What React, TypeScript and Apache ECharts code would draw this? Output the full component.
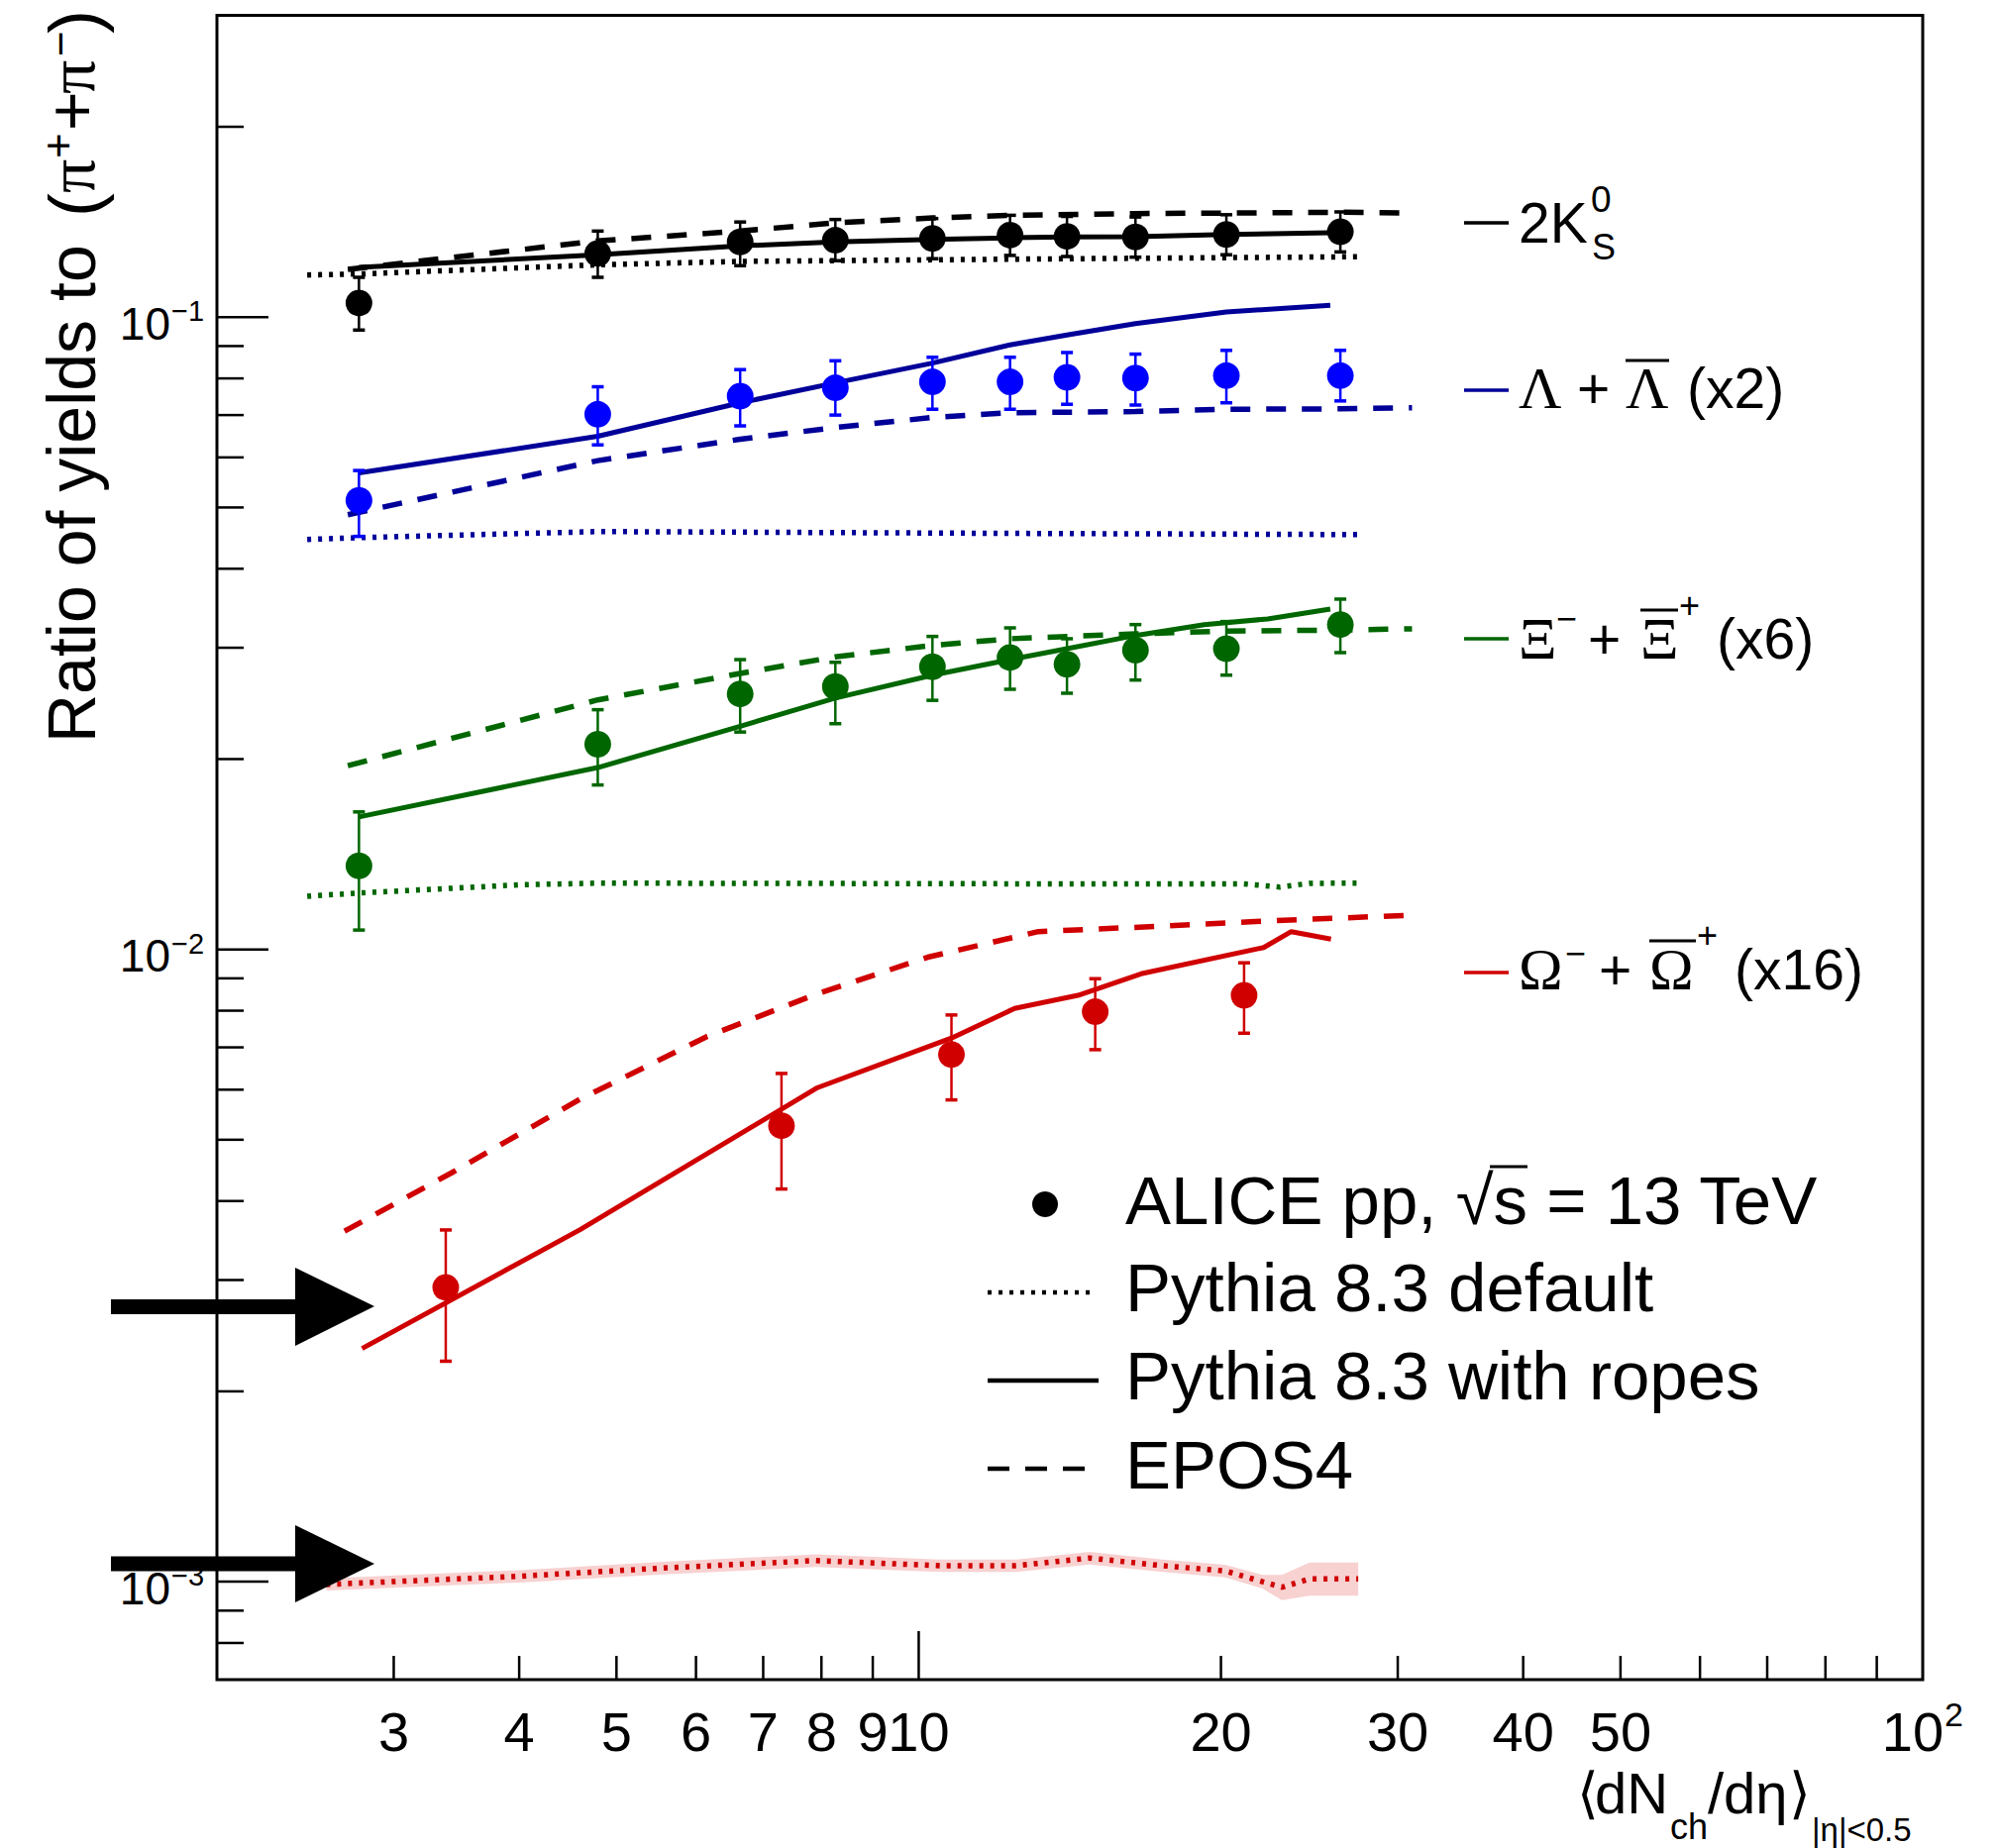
import React, { useEffect, useRef } from 'react';
import * as echarts from 'echarts';

// ---------- axis ranges & ticks ----------
const xMin = 2;
const xMax = 100;
const yMin = 0.0007;
const yMax = 0.3;
const xTickVals = [3, 4, 5, 6, 7, 8, 9, 10, 20, 30, 40, 50, 60, 70, 80, 90];
const xMajorTicks = [10];
const xLabelVals = [3, 4, 5, 6, 7, 8, 9, 10, 20, 30, 40, 50, 100];
const xLabelTexts = ['3', '4', '5', '6', '7', '8', '9', '10', '20', '30', '40', '50', '10'];
const xLabelSups = ['', '', '', '', '', '', '', '', '', '', '', '', '2'];
const yTickVals = [0.0008, 0.0009, 0.001, 0.002, 0.003, 0.004, 0.005, 0.006, 0.007, 0.008, 0.009,
  0.01, 0.02, 0.03, 0.04, 0.05, 0.06, 0.07, 0.08, 0.09, 0.1, 0.2];
const yMajorTicks = [0.001, 0.01, 0.1];
const yLabelVals = [0.001, 0.01, 0.1];
const yLabelSups = ['\u22123', '\u22122', '\u22121'];

// ---------- ALICE data ----------
const xData = [2.77, 4.79, 6.64, 8.26, 10.32, 12.33, 14.05, 16.44, 20.25, 26.3];
const kVal = [0.1053, 0.1261, 0.1315, 0.1323, 0.1332, 0.1348, 0.1342, 0.1339, 0.1351, 0.1365];
const kLow = [0.0954, 0.1156, 0.1206, 0.1228, 0.1237, 0.1252, 0.1247, 0.1244, 0.1255, 0.1268];
const kHigh = [0.1156, 0.1368, 0.1414, 0.1427, 0.1432, 0.1449, 0.1443, 0.1440, 0.1452, 0.1467];
const lamVal = [0.0513, 0.0702, 0.0750, 0.0773, 0.0790, 0.0790, 0.0803, 0.0801, 0.0808, 0.0808];
const lamLow = [0.0450, 0.0628, 0.0673, 0.0700, 0.0715, 0.0715, 0.0728, 0.0726, 0.0732, 0.0737];
const lamHigh = [0.0572, 0.0776, 0.0826, 0.0853, 0.0864, 0.0864, 0.0879, 0.0874, 0.0886, 0.0886];
const xiVal = [0.01356, 0.02111, 0.02536, 0.02605, 0.02799, 0.02895, 0.02825, 0.02973, 0.0299, 0.03264];
const xiLow = [0.01073, 0.0182, 0.02207, 0.02275, 0.02477, 0.02579, 0.02542, 0.02667, 0.02715, 0.02947];
const xiHigh = [0.0165, 0.02394, 0.02873, 0.02845, 0.03126, 0.03225, 0.0310, 0.03264, 0.0330, 0.03581];
const xOmega = [3.38, 7.30, 10.78, 14.99, 21.09];
const omVal = [0.002921, 0.005263, 0.006818, 0.00797, 0.00846];
const omLow = [0.002232, 0.004179, 0.005781, 0.006941, 0.00737];
const omHigh = [0.0036, 0.006365, 0.007876, 0.008988, 0.009524];

// ---------- Pythia 8.3 with ropes ----------
const ropesX = [2.77, 4.79, 6.64, 8.26, 10.32, 12.33, 14.05, 16.44, 20.25, 25.7];
const kRopes = [0.1199, 0.1255, 0.1296, 0.1315, 0.1327, 0.1335, 0.1339, 0.1340, 0.1351, 0.1360];
const lamRopes = [0.0567, 0.0648, 0.0732, 0.0787, 0.0846, 0.0904, 0.0937, 0.0977, 0.1019, 0.1044];
const xiRopesX = [2.77, 4.79, 6.64, 8.26, 10.32, 12.33, 14.05, 16.44, 19.25, 22.26, 25.7];
const xiRopes = [0.0162, 0.01939, 0.02254, 0.02498, 0.02715, 0.02873, 0.0299, 0.03137, 0.03264, 0.03332, 0.03454];
const omRopesX = [2.79, 4.60, 7.93, 10.78, 12.46, 14.41, 16.65, 22.06, 23.5, 25.74];
const omRopes = [0.002338, 0.003604, 0.006045, 0.00724, 0.008066, 0.00846, 0.00915, 0.01007, 0.01067, 0.01038];

// ---------- EPOS4 ----------
const eposX = [2.70, 4.79, 6.64, 8.26, 10.32, 12.33, 16.44, 20.25, 26.3, 31.0];
const kEpos = [0.1190, 0.1320, 0.1368, 0.1410, 0.1435, 0.1449, 0.1458, 0.1461, 0.1465, 0.1461];
const lamEpos = [0.0487, 0.0593, 0.0641, 0.0669, 0.0694, 0.0706, 0.0709, 0.0715, 0.0716, 0.0719];
const xiEpos = [0.01952, 0.02481, 0.02732, 0.02902, 0.03026, 0.0310, 0.03156, 0.03187, 0.0320, 0.03214];
const omEposX = [2.68, 3.44, 4.60, 6.15, 7.93, 10.21, 13.16, 17.59, 23.08, 31.1];
const omEpos = [0.003584, 0.004449, 0.005796, 0.00728, 0.00851, 0.00972, 0.01067, 0.01089, 0.01112, 0.01133];

// ---------- Pythia 8.3 default ----------
const defX = [2.46, 2.77, 4.79, 6.64, 12.33, 27.4];
const kDef = [0.1166, 0.1170, 0.1210, 0.1225, 0.1235, 0.1246];
const lamDef = [0.0445, 0.0448, 0.0458, 0.0457, 0.0455, 0.0453];
const xiDefX = [2.46, 2.77, 4.0, 4.79, 12.33, 21.0, 22.9, 24.5, 27.4];
const xiDef = [0.01214, 0.01228, 0.01265, 0.01273, 0.0127, 0.0127, 0.01255, 0.01272, 0.01273];
const omDefX = [2.57, 4.0, 5.5, 7.9, 10.5, 12.5, 14.8, 17.5, 20.2, 22.0, 23.0, 24.5, 27.4];
const omDef = [0.00099, 0.00102, 0.00105, 0.00108, 0.00106, 0.00106, 0.00109, 0.00106, 0.00104, 0.00100, 0.00098, 0.00101, 0.00101];
const omDefLow = [0.000968, 0.000997, 0.001026, 0.001055, 0.001036, 0.001036, 0.001065, 0.001036, 0.001016, 0.000975, 0.000935, 0.000950, 0.000950];
const omDefHigh = [0.001012, 0.001043, 0.001074, 0.001105, 0.001084, 0.001084, 0.001115, 0.001084, 0.001064, 0.001025, 0.001025, 0.001072, 0.001072];

// ---------- styles ----------
const SANS = 'Liberation Sans, Arial, Helvetica, sans-serif';
const SERIF = 'Liberation Serif, Times New Roman, serif';
const SYM = 'DejaVu Sans, Liberation Sans, sans-serif';
const BLACK = '#000000';
const BLUE_M = '#0000ff';
const BLUE_L = '#000099';
const GREEN = '#006600';
const RED = '#d00000';
const DASH = [20, 16];
const DOT = [4, 7];

const pts = (xs: number[], ys: number[]) => xs.map((x, i) => [x, ys[i]]);

function lineSeries(xs: number[], ys: number[], color: string, dash: any) {
  return {
    type: 'line',
    data: pts(xs, ys),
    showSymbol: false,
    symbol: 'none',
    silent: true,
    z: 2,
    lineStyle: { color, width: dash === 'solid' ? 5 : 5.5, type: dash, cap: 'butt', opacity: 1 },
  };
}

function scatterSeries(xs: number[], ys: number[], color: string) {
  return {
    type: 'scatter',
    data: pts(xs, ys),
    symbol: 'circle',
    symbolSize: 27,
    itemStyle: { color, opacity: 1 },
    silent: true,
    z: 5,
  };
}

function errSeries(xs: number[], lo: number[], hi: number[], color: string) {
  return {
    type: 'custom',
    silent: true,
    z: 4,
    clip: false,
    encode: { x: 0, y: [1, 2] },
    data: xs.map((x, i) => [x, lo[i], hi[i]]),
    renderItem: (params: any, api: any) => {
      const x = api.value(0);
      const p1 = api.coord([x, api.value(1)]);
      const p2 = api.coord([x, api.value(2)]);
      const st = { stroke: color, lineWidth: 2.5 };
      const cw = 6;
      return {
        type: 'group',
        children: [
          { type: 'line', shape: { x1: p1[0], y1: p1[1], x2: p2[0], y2: p2[1] }, style: st },
          { type: 'line', shape: { x1: p1[0] - cw, y1: p1[1], x2: p1[0] + cw, y2: p1[1] }, style: { stroke: color, lineWidth: 3.5 } },
          { type: 'line', shape: { x1: p2[0] - cw, y1: p2[1], x2: p2[0] + cw, y2: p2[1] }, style: { stroke: color, lineWidth: 3.5 } },
        ],
      };
    },
  };
}

const bandSeries = {
  type: 'custom',
  silent: true,
  z: 1,
  clip: false,
  encode: { x: 0, y: [1, 2] },
  data: omDefX.map((x, i) => [x, omDefLow[i], omDefHigh[i]]),
  renderItem: (params: any, api: any) => {
    const i = params.dataIndex;
    if (i >= omDefX.length - 1) return { type: 'group', children: [] };
    const a = api.coord([omDefX[i], omDefHigh[i]]);
    const b = api.coord([omDefX[i + 1], omDefHigh[i + 1]]);
    const c = api.coord([omDefX[i + 1], omDefLow[i + 1]]);
    const d = api.coord([omDefX[i], omDefLow[i]]);
    return {
      type: 'polygon',
      shape: { points: [a, b, c, d] },
      style: { fill: 'rgba(230,90,90,0.28)', stroke: 'none' },
    };
  },
};

const xTickSeries = {
  type: 'custom',
  silent: true,
  z: 6,
  clip: false,
  encode: { x: 0, y: 1 },
  data: xTickVals.map((v) => [v, yMin]),
  renderItem: (params: any, api: any) => {
    const v = api.value(0);
    const p = api.coord([v, yMin]);
    const len = xMajorTicks.indexOf(v) >= 0 ? 49 : 24;
    return {
      type: 'line',
      shape: { x1: p[0], y1: p[1], x2: p[0], y2: p[1] - len },
      style: { stroke: '#000', lineWidth: 2.5 },
    };
  },
};

const yTickSeries = {
  type: 'custom',
  silent: true,
  z: 6,
  clip: false,
  encode: { x: 0, y: 1 },
  data: yTickVals.map((v) => [xMin, v]),
  renderItem: (params: any, api: any) => {
    const v = api.value(1);
    const p = api.coord([xMin, v]);
    const major = yMajorTicks.some((m) => Math.abs(m - v) / m < 1e-6);
    const len = major ? 52 : 27;
    return {
      type: 'line',
      shape: { x1: p[0], y1: p[1], x2: p[0] + len, y2: p[1] },
      style: { stroke: '#000', lineWidth: 2.5 },
    };
  },
};

const xLabelSeries = {
  type: 'custom',
  silent: true,
  z: 6,
  clip: false,
  encode: { x: 0, y: 1 },
  data: xLabelVals.map((v) => [v, yMin]),
  renderItem: (params: any, api: any) => {
    const i = params.dataIndex;
    const p = api.coord([api.value(0), yMin]);
    const sup = xLabelSups[i];
    const y = p[1] + 52;
    if (!sup) {
      return {
        type: 'text',
        x: p[0],
        y,
        style: { text: xLabelTexts[i], fontSize: 56, fontFamily: SANS, fill: '#000', textAlign: 'center', textVerticalAlign: 'middle' },
      };
    }
    return {
      type: 'group',
      children: [
        { type: 'text', x: p[0] - 10, y, style: { text: xLabelTexts[i], fontSize: 56, fontFamily: SANS, fill: '#000', textAlign: 'center', textVerticalAlign: 'middle' } },
        { type: 'text', x: p[0] + 22, y: y - 17, style: { text: sup, fontSize: 34, fontFamily: SANS, fill: '#000', textAlign: 'left', textVerticalAlign: 'middle' } },
      ],
    };
  },
};

const yLabelSeries = {
  type: 'custom',
  silent: true,
  z: 6,
  clip: false,
  encode: { x: 0, y: 1 },
  data: yLabelVals.map((v) => [xMin, v]),
  renderItem: (params: any, api: any) => {
    const i = params.dataIndex;
    const p = api.coord([xMin, api.value(1)]);
    const rx = p[0] - 47;
    return {
      type: 'group',
      children: [
        { type: 'text', x: rx, y: p[1] + 6.5, style: { text: '10', fontSize: 46, fontFamily: SANS, fill: '#000', textAlign: 'right', textVerticalAlign: 'middle' } },
        { type: 'text', x: rx + 1, y: p[1] - 6, style: { text: yLabelSups[i], fontSize: 29, fontFamily: SANS, fill: '#000', textAlign: 'left', textVerticalAlign: 'middle' } },
      ],
    };
  },
};

// ---------- graphic helpers ----------
const txt = (x: number, y: number, text: string, fontSize: number, family = SANS, align = 'left', fill = '#000') => ({
  type: 'text',
  x,
  y,
  z: 50,
  style: { text, fontSize, fontFamily: family, fill, textAlign: align, textVerticalAlign: 'middle' },
});
const ln = (x1: number, y1: number, x2: number, y2: number, stroke: string, lineWidth: number, lineDash?: number[]) => ({
  type: 'line',
  z: 50,
  shape: { x1, y1, x2, y2 },
  style: { stroke, lineWidth, lineDash: lineDash || null, lineCap: 'butt' },
});

const graphics: any[] = [
  // y-axis title (rotated)
  {
    type: 'group',
    x: 72,
    y: 750,
    rotation: Math.PI / 2,
    children: [
      txt(0, 0, 'Ratio of yields to', 68),
      txt(531, 3, '(', 72),
      txt(555, 0, '\u03c0', 68, SERIF),
      txt(590, -14, '+', 44),
      txt(618, 0, '+', 68),
      txt(655, 0, '\u03c0', 68, SERIF),
      txt(693, -12, '\u2212', 44),
      txt(716, 3, ')', 72),
    ],
  },
  // x-axis title
  txt(1592, 1810, '\u27e8', 56, SYM),
  txt(1610, 1810, 'dN', 58),
  txt(1686, 1844, 'ch', 36),
  txt(1724, 1810, '/d\u03b7', 58),
  txt(1806, 1810, '\u27e9', 56, SYM),
  txt(1829, 1847, '|\u03b7|<0.5', 33),

  // species labels
  ln(1478, 225, 1523, 225, BLACK, 3.5),
  txt(1533, 225, '2K', 57),
  txt(1606, 201, '0', 37),
  txt(1607, 249, 'S', 36),

  ln(1478, 394, 1523, 394, BLUE_L, 3.5),
  txt(1533, 392, '\u039b', 60, SERIF),
  txt(1592, 392, '+', 57),
  txt(1641, 392, '\u039b', 60, SERIF),
  ln(1641, 364, 1685, 364, '#000', 3),
  txt(1703, 392, '(x2)', 57),

  ln(1478, 645, 1523, 645, GREEN, 3.5),
  txt(1533, 645, '\u039e', 60, SERIF),
  txt(1571, 624, '\u2212', 36),
  txt(1603, 645, '+', 57),
  txt(1656, 645, '\u039e', 60, SERIF),
  ln(1656, 616, 1694, 616, '#000', 3),
  txt(1695, 611, '+', 36),
  txt(1733, 645, '(x6)', 57),

  ln(1478, 982, 1523, 982, RED, 3.5),
  txt(1533, 979, '\u03a9', 60, SERIF),
  txt(1580, 962, '\u2212', 36),
  txt(1614, 979, '+', 57),
  txt(1665, 979, '\u03a9', 60, SERIF),
  ln(1665, 950, 1712, 950, '#000', 3),
  txt(1713, 944, '+', 36),
  txt(1751, 979, '(x16)', 57),

  // model legend
  { type: 'circle', z: 50, shape: { cx: 1055, cy: 1216, r: 13 }, style: { fill: '#000' } },
  txt(1136, 1212, 'ALICE pp, \u221as = 13 TeV', 69),
  ln(1504, 1178, 1542, 1178, '#000', 3),
  ln(997, 1305, 1104, 1305, '#000', 4.5, DOT),
  txt(1136, 1300, 'Pythia 8.3 default', 69),
  ln(997, 1394, 1109, 1394, '#000', 4.5),
  txt(1136, 1389, 'Pythia 8.3 with ropes', 69),
  ln(997, 1483, 1095, 1483, '#000', 4.5, [22, 16]),
  txt(1136, 1479, 'EPOS4', 69),

  // arrows
  { type: 'rect', z: 60, shape: { x: 112, y: 1312, width: 187, height: 15 }, style: { fill: '#000' } },
  { type: 'polygon', z: 60, shape: { points: [[298, 1280], [378, 1319], [298, 1359]] }, style: { fill: '#000' } },
  { type: 'rect', z: 60, shape: { x: 112, y: 1571.5, width: 187, height: 15 }, style: { fill: '#000' } },
  { type: 'polygon', z: 60, shape: { points: [[298, 1540], [378, 1579], [298, 1618]] }, style: { fill: '#000' } },
];

const option: any = {
  animation: false,
  backgroundColor: '#ffffff',
  grid: {
    left: 219,
    top: 15.6,
    width: 1722,
    height: 1680.4,
    show: true,
    borderColor: '#000',
    borderWidth: 3,
    backgroundColor: 'transparent',
    containLabel: false,
  },
  xAxis: {
    type: 'log',
    logBase: 10,
    min: xMin,
    max: xMax,
    axisLine: { show: false },
    axisTick: { show: false },
    axisLabel: { show: false },
    splitLine: { show: false },
  },
  yAxis: {
    type: 'log',
    logBase: 10,
    min: yMin,
    max: yMax,
    axisLine: { show: false },
    axisTick: { show: false },
    axisLabel: { show: false },
    splitLine: { show: false },
  },
  series: [
    bandSeries,
    // Pythia default (dotted)
    lineSeries(defX, kDef, BLACK, DOT),
    lineSeries(defX, lamDef, BLUE_L, DOT),
    lineSeries(xiDefX, xiDef, GREEN, DOT),
    lineSeries(omDefX, omDef, RED, DOT),
    // EPOS4 (dashed)
    lineSeries(eposX, kEpos, BLACK, DASH),
    lineSeries(eposX, lamEpos, BLUE_L, DASH),
    lineSeries(eposX, xiEpos, GREEN, DASH),
    lineSeries(omEposX, omEpos, RED, DASH),
    // Pythia ropes (solid)
    lineSeries(ropesX, kRopes, BLACK, 'solid'),
    lineSeries(ropesX, lamRopes, BLUE_L, 'solid'),
    lineSeries(xiRopesX, xiRopes, GREEN, 'solid'),
    lineSeries(omRopesX, omRopes, RED, 'solid'),
    // data
    errSeries(xData, kLow, kHigh, BLACK),
    errSeries(xData, lamLow, lamHigh, BLUE_M),
    errSeries(xData, xiLow, xiHigh, GREEN),
    errSeries(xOmega, omLow, omHigh, RED),
    scatterSeries(xData, kVal, BLACK),
    scatterSeries(xData, lamVal, BLUE_M),
    scatterSeries(xData, xiVal, GREEN),
    scatterSeries(xOmega, omVal, RED),
    // axes decorations
    xTickSeries,
    yTickSeries,
    xLabelSeries,
    yLabelSeries,
  ],
  graphic: { elements: graphics },
};

export default function App() {
  const ref = useRef<HTMLDivElement>(null);
  useEffect(() => {
    if (!ref.current) return;
    const chart = echarts.init(ref.current, null, { renderer: 'svg' });
    chart.setOption(option);
    return () => {
      chart.dispose();
    };
  }, []);
  return (
    <div
      ref={ref}
      style={{ position: 'fixed', left: 0, top: 0, width: 2018, height: 1866, background: '#ffffff' }}
    />
  );
}
